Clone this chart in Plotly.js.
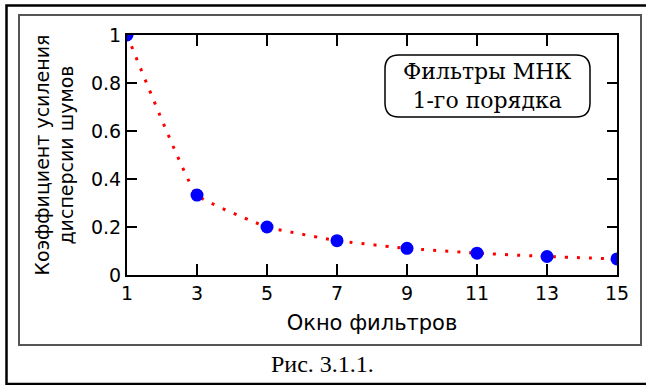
<!DOCTYPE html>
<html>
<head>
<meta charset="utf-8">
<script src="https://cdn.plot.ly/plotly-3.0.1.min.js"></script>
<style>
html,body{margin:0;padding:0;background:#fff;}
#chart{width:646px;height:385px;}
</style>
</head>
<body>
<div id="chart"></div>
<script>
// Data
var windowSizes = [1, 3, 5, 7, 9, 11, 13, 15];
var gainValues = [1.0, 0.333, 0.2, 0.143, 0.111, 0.091, 0.077, 0.067];
var xTickValues = [1, 3, 5, 7, 9, 11, 13, 15];
var yTickValues = [0, 0.2, 0.4, 0.6, 0.8, 1];
var xTitle = 'Окно фильтров';
var yTitle = 'Коэффициент усиления<br>дисперсии шумов';
var boxText = 'Фильтры МНК<br>1-го порядка';
var captionText = 'Рис. 3.1.1.';

var W = 646, H = 385;
var M = {l: 127, r: 29, t: 35, b: 110};
var PW = W - M.l - M.r, PH = H - M.t - M.b;
function X(px){ return (px - M.l) / PW; }
function Y(py){ return (H - M.b - py) / PH; }

// rounded box
var bx0 = X(385), bx1 = X(590), by0 = Y(117), by1 = Y(55);
var rx = 14 / PW, ry = 14 / PH;
var boxPath = 'M ' + (bx0 + rx) + ',' + by0 +
  ' L ' + (bx1 - rx) + ',' + by0 +
  ' Q ' + bx1 + ',' + by0 + ' ' + bx1 + ',' + (by0 + ry) +
  ' L ' + bx1 + ',' + (by1 - ry) +
  ' Q ' + bx1 + ',' + by1 + ' ' + (bx1 - rx) + ',' + by1 +
  ' L ' + (bx0 + rx) + ',' + by1 +
  ' Q ' + bx0 + ',' + by1 + ' ' + bx0 + ',' + (by1 - ry) +
  ' L ' + bx0 + ',' + (by0 + ry) +
  ' Q ' + bx0 + ',' + by0 + ' ' + (bx0 + rx) + ',' + by0 + ' Z';

var traces = [
  {
    x: windowSizes, y: gainValues, type: 'scatter', mode: 'lines',
    line: {color: '#ff0000', width: 3, dash: '3px,9px', shape: 'spline', smoothing: 0.3},
    hoverinfo: 'skip', showlegend: false
  },
  {
    x: windowSizes, y: gainValues, type: 'scatter', mode: 'markers',
    marker: {color: '#0000ff', size: 13, line: {width: 0}},
    cliponaxis: true, showlegend: false
  }
];

var tickFont = {family: 'DejaVu Sans, Arial, sans-serif', size: 19, color: '#000'};

var layout = {
  width: W, height: H,
  margin: M,
  paper_bgcolor: '#ffffff',
  plot_bgcolor: '#ffffff',
  showlegend: false,
  xaxis: {
    range: [1, 15], tickvals: xTickValues, ticktext: xTickValues.map(String),
    showgrid: false, zeroline: false,
    showline: true, linecolor: '#000', linewidth: 2, mirror: 'ticks',
    ticks: 'inside', ticklen: 11, tickwidth: 2, tickcolor: '#000',
    tickfont: tickFont,
    title: {text: xTitle, font: {family: 'DejaVu Sans, Arial, sans-serif', size: 21, color: '#000'}, standoff: 13}
  },
  yaxis: {
    range: [0, 1], tickvals: yTickValues, ticktext: ['0', '0.2', '0.4', '0.6', '0.8', '1'],
    showgrid: false, zeroline: false,
    showline: true, linecolor: '#000', linewidth: 2, mirror: 'ticks',
    ticks: 'inside', ticklen: 10, tickwidth: 2, tickcolor: '#000',
    tickfont: tickFont,
    title: {text: yTitle, font: {family: 'DejaVu Sans, Arial, sans-serif', size: 19, color: '#000'}, standoff: 12}
  },
  shapes: [
    {type: 'rect', xref: 'paper', yref: 'paper', x0: X(6.5), x1: X(649), y0: Y(384), y1: Y(5.5),
     line: {color: '#000', width: 2.5}, fillcolor: 'rgba(0,0,0,0)'},
    {type: 'rect', xref: 'paper', yref: 'paper', x0: X(19), x1: X(641), y0: Y(345), y1: Y(15),
     line: {color: '#555', width: 2}, fillcolor: 'rgba(0,0,0,0)'},
    {type: 'path', xref: 'paper', yref: 'paper', path: boxPath,
     line: {color: '#000', width: 1.5}, fillcolor: '#ffffff'}
  ],
  annotations: [
    {xref: 'paper', yref: 'paper', x: X(487), y: Y(86), xanchor: 'center', yanchor: 'middle',
     text: boxText, showarrow: false, align: 'center',
     font: {family: 'DejaVu Serif, Liberation Serif, serif', size: 22, color: '#000'}},
    {xref: 'paper', yref: 'paper', x: X(322), y: Y(364), xanchor: 'center', yanchor: 'middle',
     text: captionText, showarrow: false,
     font: {family: 'Liberation Serif, Times New Roman, serif', size: 24, color: '#000'}}
  ]
};

Plotly.newPlot('chart', traces, layout, {staticPlot: true, displayModeBar: false});
</script>
</body>
</html>
